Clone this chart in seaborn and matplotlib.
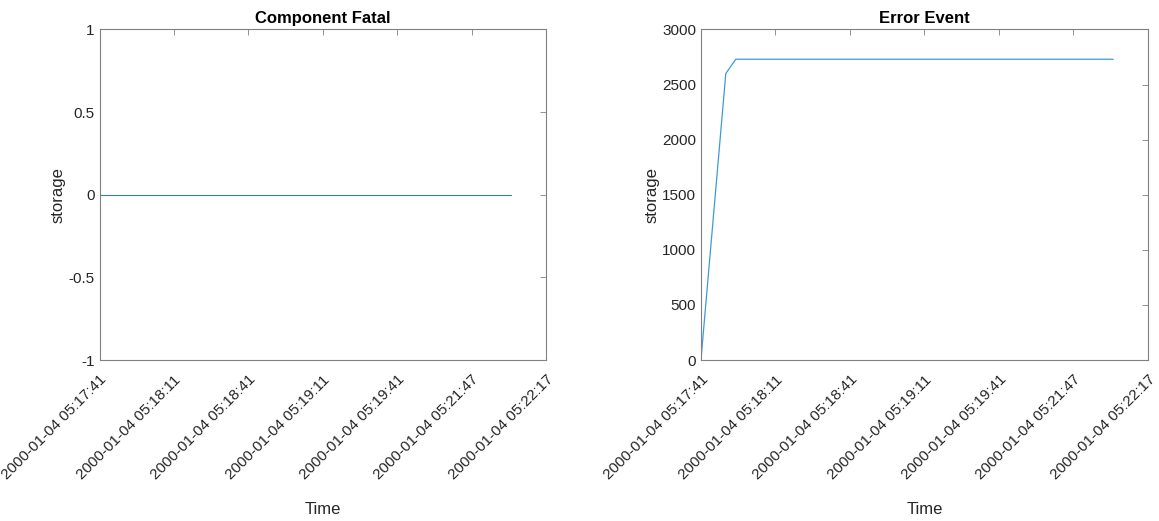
import matplotlib
matplotlib.use("Agg")
import matplotlib.pyplot as plt
import seaborn as sns
import pandas as pd

# Data (x in seconds since 2000-01-04 05:17:41)
fatal_t = [0, 10, 14, 166]
fatal_v = [0, 0, 0, 0]
error_t = [0, 10, 14, 166]
error_v = [0, 2600, 2730, 2730]
tick_pos = [0, 30, 60, 90, 120, 150, 180]
tick_labels = ["2000-01-04 05:17:41", "2000-01-04 05:18:11", "2000-01-04 05:18:41",
               "2000-01-04 05:19:11", "2000-01-04 05:19:41", "2000-01-04 05:21:47",
               "2000-01-04 05:22:17"]
titles = ["Component Fatal", "Error Event"]

sns.set_theme(style="white")
plt.rcParams['font.family'] = ['Liberation Sans', 'DejaVu Sans']

fig = plt.figure(figsize=(11.59, 5.21), dpi=100)
ax1 = fig.add_axes([0.0859, 0.309, 0.3852, 0.6344])
ax2 = fig.add_axes([0.6048, 0.309, 0.3857, 0.6344])

df1 = pd.DataFrame({"Time": fatal_t, "storage": fatal_v})
df2 = pd.DataFrame({"Time": error_t, "storage": error_v})
sns.lineplot(data=df1, x="Time", y="storage", ax=ax1, color="#2f7fc1", linewidth=0.8)
sns.lineplot(data=df2, x="Time", y="storage", ax=ax2, color="#3d9ad6", linewidth=0.9)

ax1.set_ylim(-1, 1)
ax1.set_yticks([-1, -0.5, 0, 0.5, 1])
ax1.set_yticklabels(["-1", "-0.5", "0", "0.5", "1"])
ax2.set_ylim(0, 3000)
ax2.set_yticks([0, 500, 1000, 1500, 2000, 2500, 3000])

text_color = "#262626"
for ax, title in zip([ax1, ax2], titles):
    ax.set_xlim(0, 180)
    ax.set_xticks(tick_pos)
    ax.set_xticklabels(tick_labels, rotation=45, ha="right", rotation_mode="anchor")
    ax.set_title(title, fontsize=12, fontweight="bold", color="black", pad=5)
    ax.set_xlabel("Time", fontsize=12, color=text_color, labelpad=14)
    ax.set_ylabel("storage", fontsize=12, color=text_color, labelpad=2)
    ax.tick_params(axis="x", pad=9)
    ax.tick_params(axis="both", which="both", direction="in", length=4, width=0.6,
                   top=True, right=True, labelsize=11, colors="#808080",
                   labelcolor=text_color)
    for sp in ax.spines.values():
        sp.set_color("#808080")
        sp.set_linewidth(0.8)
        sp.set_visible(True)
    ax.grid(False)

fig.savefig("out.png", dpi=100, facecolor="white")
